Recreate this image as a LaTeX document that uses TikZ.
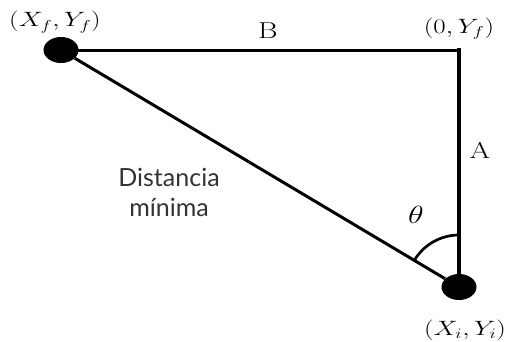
\documentclass[tikz,border=0pt]{standalone}
\usepackage{fontspec}
\newfontfamily\labelsans{Lato}
\usetikzlibrary{shapes.geometric}
\newcommand{\stretchx}[1]{\scalebox{1.3}[1]{#1}}

\begin{document}
\begin{tikzpicture}[x=1pt, y=1pt,
        dot/.style={ellipse, fill=black, minimum width=35pt, minimum height=26pt, inner sep=0pt},
        lbl/.style={inner sep=0pt, anchor=base, font=\fontsize{22}{26}\selectfont},
        edge/.style={line width=3pt}
    ]
    \useasboundingbox (0,0) rectangle (508,341);
    % end points and corner
    \node[dot] (xf) at (61,291) {};
    \node[dot] (xi) at (459,54) {};
    \coordinate (corner) at (459,291);
    \draw[edge, line cap=rect] (xf) -- (corner);
    \draw[edge, line width=4pt, line cap=rect] (corner) -- (xi);
    \draw[edge] (xf) -- (xi);
    \draw[line width=2.7pt] ([shift={(90:52pt)}]xi.center) arc[start angle=90, end angle=149.2, radius=52pt];
    % labels
    \node[lbl] (lxf) at (55,314) {\stretchx{$(X_f,Y_f)$}};
    \node[lbl] (lcorner) at (459,308) {\stretchx{$(0,Y_f)$}};
    \node[lbl] (lxi) at (465,6) {\stretchx{$(X_i,Y_i)$}};
    \node[lbl, font=\fontsize{23}{27}\selectfont] (lb) at (268,303) {\stretchx{B}};
    \node[lbl, font=\fontsize{23}{27}\selectfont] (la) at (480,183) {\stretchx{A}};
    \node[lbl, font=\fontsize{28}{32}\selectfont] (theta) at (416,118) {\stretchx{$\theta$}};
    \node[font=\labelsans\fontsize{25}{30}\selectfont, text=black!80, align=center, inner sep=0pt] (dist) at (169,148.5) {Distancia\\mínima};
\end{tikzpicture}
\end{document}
